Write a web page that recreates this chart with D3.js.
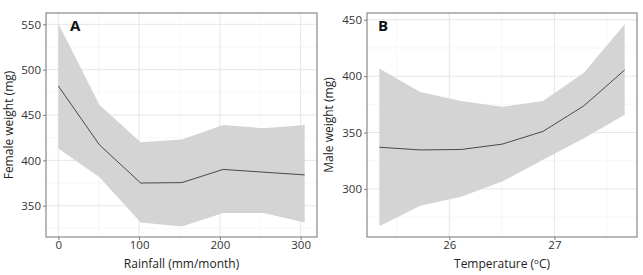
<!DOCTYPE html>
<html>
<head>
<meta charset="utf-8">
<script src="https://cdn.jsdelivr.net/npm/d3@7"></script>
<style>
  body { margin: 0; background: #fff; }
  svg { font-family: "Open Sans", "Noto Sans", sans-serif; }
</style>
</head>
<body>
<svg id="chart" width="643" height="275"></svg>
<script>
// panel A: rainfall
const rainX = [0, 51, 102, 153, 204, 254, 305];
const rainFit = [482, 417, 375, 375.5, 390, 387, 384];
const rainLow = [413, 381.5, 331.5, 327, 342, 342, 331.5];
const rainHigh = [551, 461, 420, 423, 439, 435.5, 439];
const rainTicksX = [0, 100, 200, 300];
const rainTicksY = [350, 400, 450, 500, 550];

// panel B: temperature
const tempX = [25.335, 25.724, 26.113, 26.502, 26.891, 27.28, 27.668];
const tempFit = [337, 334.6, 335, 339.7, 351, 373.7, 405.5];
const tempLow = [267, 285, 293, 306.5, 325.8, 345, 365.7];
const tempHigh = [406.8, 386, 378, 372.8, 378, 403, 446];
const tempTicksX = [26, 27];
const tempTicksY = [300, 350, 400, 450];

const svg = d3.select('#chart');

/** draw one ggplot-like panel */
function drawPanel(opt) {
  const g = svg.append('g');
  const x = d3.scaleLinear().domain(opt.xDomain).range([opt.left, opt.right]);
  const y = d3.scaleLinear().domain(opt.yDomain).range([opt.bottom, opt.top]);

  // minor grid (midpoints between majors)
  const minorX = [], minorY = [];
  const stepX = opt.ticksX[1] - opt.ticksX[0];
  const stepY = opt.ticksY[1] - opt.ticksY[0];
  for (let v = opt.ticksX[0] - stepX / 2; v <= opt.xDomain[1]; v += stepX)
    if (v >= opt.xDomain[0]) minorX.push(v);
  for (let v = opt.ticksY[0] - stepY / 2; v <= opt.yDomain[1]; v += stepY)
    if (v >= opt.yDomain[0]) minorY.push(v);

  g.selectAll('.minx').data(minorX).join('line')
    .attr('x1', x).attr('x2', x).attr('y1', opt.top).attr('y2', opt.bottom)
    .attr('stroke', '#f2f2f2').attr('stroke-width', 0.6);
  g.selectAll('.miny').data(minorY).join('line')
    .attr('y1', y).attr('y2', y).attr('x1', opt.left).attr('x2', opt.right)
    .attr('stroke', '#f2f2f2').attr('stroke-width', 0.6);
  g.selectAll('.majx').data(opt.ticksX).join('line')
    .attr('x1', x).attr('x2', x).attr('y1', opt.top).attr('y2', opt.bottom)
    .attr('stroke', '#e6e6e6').attr('stroke-width', 1);
  g.selectAll('.majy').data(opt.ticksY).join('line')
    .attr('y1', y).attr('y2', y).attr('x1', opt.left).attr('x2', opt.right)
    .attr('stroke', '#e6e6e6').attr('stroke-width', 1);

  // ribbon + fitted line
  const pts = opt.xs.map((v, i) => ({x: v, lo: opt.lo[i], hi: opt.hi[i], fit: opt.fit[i]}));
  g.append('path').datum(pts)
    .attr('fill', '#d4d4d4')
    .attr('d', d3.area().x(d => x(d.x)).y0(d => y(d.lo)).y1(d => y(d.hi)));
  g.append('path').datum(pts)
    .attr('fill', 'none').attr('stroke', '#3a3a3a').attr('stroke-width', 0.9)
    .attr('d', d3.line().x(d => x(d.x)).y(d => y(d.fit)));

  // border
  g.append('rect')
    .attr('x', opt.left).attr('y', opt.top)
    .attr('width', opt.right - opt.left).attr('height', opt.bottom - opt.top)
    .attr('fill', 'none').attr('stroke', '#7f7f7f').attr('stroke-width', 1.1);

  // axes
  const ax = g.append('g').attr('transform', `translate(0,${opt.bottom})`)
    .call(d3.axisBottom(x).tickValues(opt.ticksX).tickSize(3).tickPadding(1).tickFormat(d3.format('d')));
  const ay = g.append('g').attr('transform', `translate(${opt.left},0)`)
    .call(d3.axisLeft(y).tickValues(opt.ticksY).tickSize(3).tickPadding(2).tickFormat(d3.format('d')));
  [ax, ay].forEach(a => {
    a.select('.domain').remove();
    a.selectAll('.tick line').attr('stroke', '#7f7f7f');
    a.selectAll('.tick text').attr('fill', '#333').style('font-size', '11.5px')
      .style('font-family', '"Open Sans", sans-serif');
  });

  // titles
  const xt = g.append('text')
    .attr('x', (opt.left + opt.right) / 2).attr('y', 268)
    .attr('text-anchor', 'middle').attr('fill', '#222').style('font-size', '12px');
  opt.xTitle.forEach(part => {
    const t = xt.append('tspan').text(part.text);
    if (part.sup) t.style('font-size', '8px').attr('dy', -4);
    else if (part.after) t.attr('dy', 4);
  });
  g.append('text')
    .attr('transform', `translate(${opt.yTitleX},${(opt.top + opt.bottom) / 2}) rotate(-90)`)
    .attr('text-anchor', 'middle').attr('fill', '#222').style('font-size', '12px')
    .text(opt.yTitle);
  g.append('text')
    .attr('x', opt.left + opt.tagDx).attr('y', 31)
    .attr('fill', '#111').style('font-size', '15px').style('font-weight', 'bold')
    .text(opt.tag);
}

drawPanel({
  left: 46, right: 317, top: 13, bottom: 237,
  xDomain: [-15.25, 320.25], yDomain: [315.5, 562.5],
  xs: rainX, fit: rainFit, lo: rainLow, hi: rainHigh,
  ticksX: rainTicksX, ticksY: rainTicksY,
  xTitle: [{text: 'Rainfall (mm/month)'}],
  yTitle: 'Female weight (mg)', yTitleX: 13, tag: 'A', tagDx: 24
});

drawPanel({
  left: 367, right: 637, top: 13, bottom: 237,
  xDomain: [25.218, 27.785], yDomain: [257.4, 456],
  xs: tempX, fit: tempFit, lo: tempLow, hi: tempHigh,
  ticksX: tempTicksX, ticksY: tempTicksY,
  xTitle: [{text: 'Temperature ('}, {text: 'o', sup: true}, {text: 'C)', after: true}],
  yTitle: 'Male weight (mg)', yTitleX: 333, tag: 'B', tagDx: 11
});
</script>
</body>
</html>
